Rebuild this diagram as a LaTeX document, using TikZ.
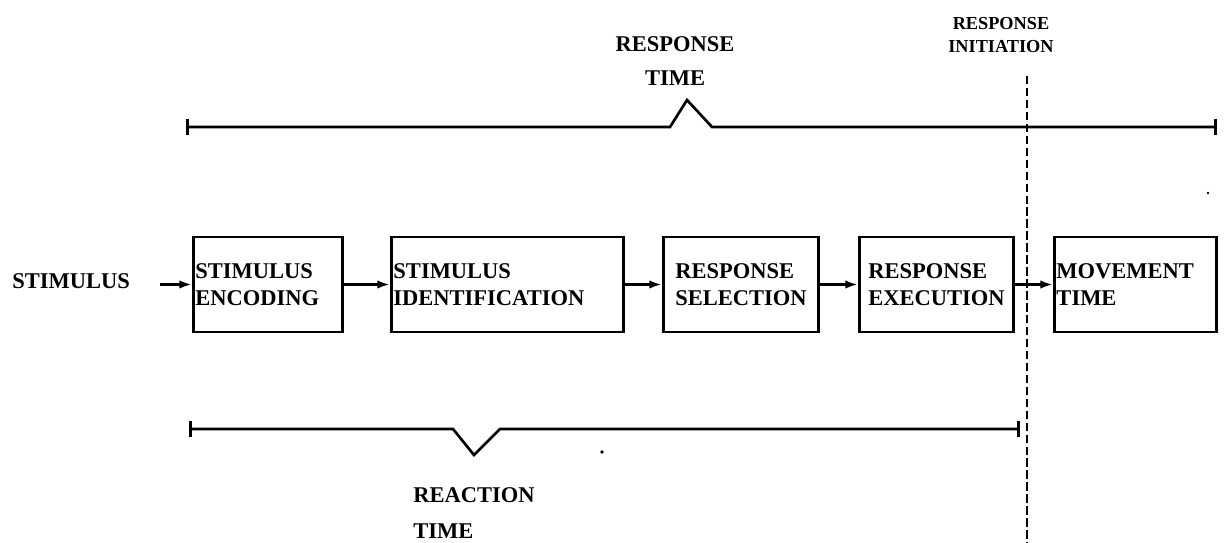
\documentclass[tikz,border=0pt]{standalone}
\usepackage{fontspec}
\setmainfont{Liberation Serif}
\usetikzlibrary{arrows.meta}
\tikzset{
  stage/.style={draw, line width=2.1pt, anchor=west, align=left,
    minimum height=2.375cm, inner xsep=0.05cm,
    font=\fontsize{16}{19}\bfseries\selectfont},
  flow/.style={line width=1.9pt, -{Latex[length=9pt,width=6pt]}},
  span/.style={line width=1.9pt, {Bar[width=12pt]}-{Bar[width=12pt]}},
  lbl/.style={inner sep=0pt, font=\fontsize{16}{24}\bfseries\selectfont}
}
\begin{document}
\begin{tikzpicture}[x=0.025cm,y=-0.025cm]
  \useasboundingbox (0,0) rectangle (1227,543);
  \node[lbl, anchor=west] (stim) at (12,281) {STIMULUS};
  \node[stage, text width=3.625cm] (enc) at (192,284.5) {STIMULUS\\ENCODING};
  \node[stage, text width=5.7cm] (ident) at (390,284.5) {STIMULUS\\IDENTIFICATION};
  \node[stage, minimum width=3.875cm] (sel) at (662,284.5) {RESPONSE\\SELECTION};
  \node[stage, minimum width=3.85cm] (exec) at (858,284.5) {RESPONSE\\EXECUTION};
  \node[stage, text width=3.95cm] (move) at (1053,284.5) {MOVEMENT\\TIME};
  \coordinate (stimout) at (160,284.5);
  \begin{scope}[flow]
    \draw (stimout) to (enc);
    \draw (enc) to (ident);
    \draw (ident) to (sel);
    \draw (sel) to (exec);
    \draw (exec) to (move);
  \end{scope}
  \node[lbl, align=center] (resptime) at (675,61) {RESPONSE\\TIME};
  \node[lbl, align=center, font=\fontsize{13}{16.5}\bfseries\selectfont] (init) at (1001,35) {RESPONSE\\INITIATION};
  \node[lbl, align=left, anchor=west, font=\fontsize{16}{25}\bfseries\selectfont] (react) at (413,513) {REACTION\\TIME};
  \coordinate (rt0) at (186,127);
  \coordinate (rt1) at (1217,127);
  \coordinate (rx0) at (189,429);
  \coordinate (rx1) at (1020,429);
  \coordinate (cut0) at (1027,76);
  \coordinate (cut1) at (1027,543);
  \draw[span] (rt0) -- (670,127) -- (687,100) -- (712,127) -- (rt1);
  \draw[span] (rx0) -- (453,429) -- (474,455) -- (500,429) -- (rx1);
  \draw[line width=1.6pt, dash pattern=on 6pt off 2.5pt] (cut0) -- (cut1);
  \fill (602,452) circle (1.4pt);
  \fill (1208,193) circle (1pt);
\end{tikzpicture}
\end{document}
